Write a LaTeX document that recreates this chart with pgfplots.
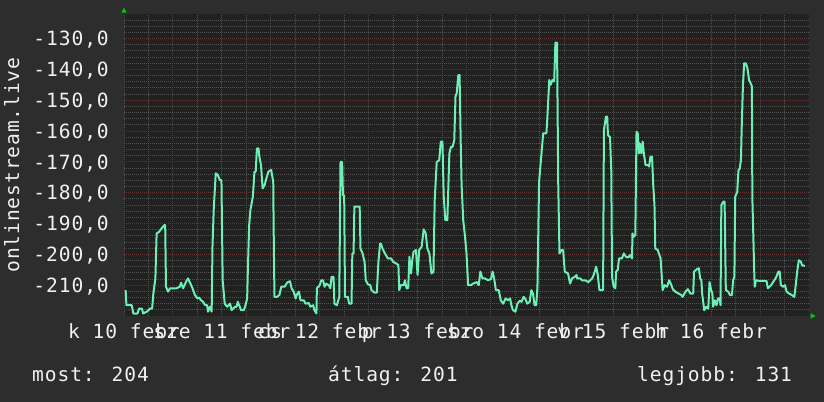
\documentclass[border=0pt]{standalone}
\usepackage{fontspec}
\usepackage{pgfplots}
\pgfplotsset{compat=1.18}

\newfontfamily\lab[LetterSpace=4.6]{DejaVu Sans Mono}
\newcommand\labfont{\lab\fontsize{19.6bp}{22bp}\selectfont}

\definecolor{outerbg}{HTML}{2D2D2D}
\definecolor{plotbg}{HTML}{212121}
\definecolor{gridmin}{HTML}{505050}
\definecolor{gridmaj}{HTML}{623434}
\definecolor{series}{HTML}{6CF0B6}
\definecolor{txt}{HTML}{F0F0F0}
\definecolor{arrowg}{HTML}{00C800}

\begin{document}
\begin{tikzpicture}
\fill[outerbg] (0,0) rectangle (824bp,402bp);
\useasboundingbox (0,0) rectangle (824bp,402bp);
\begin{axis}[
    at={(124bp,86bp)}, anchor=south west,
    scale only axis,
    width=685bp, height=302bp,
    xmin=12, xmax=180,
    ymin=-220, ymax=-122,
    axis background/.style={fill=plotbg},
    axis line style={draw=none},
    major tick length=0pt, minor tick length=0pt,
    xtick={24,48,72,96,120,144,168},
    xticklabels={,,,,,,},
    minor xtick={12,18,30,36,42,54,60,66,78,84,90,102,108,114,126,132,138,150,156,162,174},
    ytick={-210,-200,-190,-180,-170,-160,-150,-140,-130},
    yticklabels={{-210,0},{-200,0},{-190,0},{-180,0},{-170,0},{-160,0},{-150,0},{-140,0},{-130,0}},
    minor ytick={-218,-216,-214,-212,-208,-206,-204,-202,-198,-196,-194,-192,-188,-186,-184,-182,-178,-176,-174,-172,-168,-166,-164,-162,-158,-156,-154,-152,-148,-146,-144,-142,-138,-136,-134,-132,-128,-126,-124},
    grid=both,
    major grid style={gridmaj, dash pattern=on 1bp off 1bp, line width=1bp},
    minor grid style={gridmin, dash pattern=on 1bp off 1bp, line width=1bp},
    extra x ticks={12,36,60,84,108,132,156},
    extra x tick labels={k 10 febr,sze 11 febr,cs 12 febr,p 13 febr,szo 14 febr,v 15 febr,h 16 febr},
    extra x tick style={grid=none, major tick length=0pt},
    xticklabel style={font=\labfont, text=txt, anchor=base, yshift=-22.3bp, inner sep=0pt},
    yticklabel style={font=\labfont, text=txt, anchor=base east, xshift=-15bp, yshift=-7.2bp, inner sep=0pt},
]
\addplot[series, line width=2bp, line join=round] coordinates {
(12.4,-211.6) (12.6,-216.5) (13.9,-216.5) (14.3,-219.2) (15.3,-219.2) (15.7,-217.6)
(16.4,-217.6) (16.7,-219.2) (17.6,-218.6) (18.4,-217.6) (18.9,-217.6) (19.2,-212.7)
(19.7,-207.8) (20.0,-193.2) (20.6,-192.7) (21.2,-191.6) (21.9,-190.5) (22.1,-190.5)
(22.3,-210.5) (22.8,-212.1) (23.3,-211) (24.1,-211) (24.9,-211) (25.7,-210.5)
(26.0,-209.2) (26.5,-211) (27.4,-208.4) (27.7,-207.8) (28.3,-209.5) (28.8,-211)
(29.4,-213.2) (30.0,-214.3) (30.4,-214) (30.9,-214.9) (31.4,-215.4) (31.9,-216.5)
(32.4,-216.5) (32.6,-218.6) (33.1,-217) (33.5,-218.6) (33.7,-197.5) (34.0,-185.6)
(34.5,-173.7) (35.0,-174.2) (35.5,-175.9) (35.9,-175.9) (36.2,-208.4) (36.7,-216)
(37.3,-217) (38.0,-216) (38.4,-218.1) (39.2,-217) (39.6,-217) (39.9,-215.4)
(40.4,-217) (40.7,-218.1) (41.4,-218.1) (41.9,-216) (42.2,-214.3) (42.4,-204)
(42.7,-190.5) (43.0,-185.6) (43.6,-181.3) (44.0,-173.2) (44.3,-173.2) (44.6,-165.6)
(45.0,-165.6) (45.2,-168.3) (45.6,-171) (46.0,-178.6) (46.5,-177.5) (46.8,-175.9)
(47.4,-173.2) (48.1,-172.6) (48.6,-176.4) (48.7,-191) (48.9,-213.8) (49.5,-213.8)
(50.1,-213.2) (50.6,-210.5) (51.4,-210.5) (52.0,-209.2) (52.7,-208.7) (53.1,-211)
(53.6,-212.1) (54.1,-214.3) (54.4,-213) (54.9,-212.1) (55.3,-214.9) (56.1,-214.9)
(56.5,-216) (57.3,-215.8) (57.7,-217) (58.4,-216.5) (58.7,-218.1) (59.2,-219.2)
(59.3,-211) (60.0,-210) (60.4,-208.4) (60.8,-208.4) (61.2,-210.5) (61.6,-209.5)
(62.2,-210) (62.6,-211) (62.9,-207.3) (63.4,-207.3) (63.6,-216) (64.2,-216.5)
(64.8,-213.8) (65.1,-170) (65.5,-170) (65.7,-180.8) (66.0,-180.8) (66.2,-213.8)
(66.9,-213.8) (67.2,-216) (67.8,-216) (68.0,-199.7) (68.3,-199.7) (68.5,-184.5)
(69.8,-184.5) (70.0,-198.1) (70.5,-199.7) (71.0,-202.4) (71.3,-208.4) (71.8,-209.7)
(72.4,-210) (72.7,-211.6) (73.4,-212.4) (74.0,-212.4) (74.4,-202.4) (74.8,-196.5)
(75.0,-196.5) (75.4,-198.1) (76.0,-199.7) (76.7,-201.3) (77.5,-201.3) (78.0,-202.4)
(78.7,-202.9) (79.3,-203.5) (79.5,-211.6) (79.9,-210) (80.6,-210) (80.9,-208.4)
(81.3,-211) (81.7,-211) (82.0,-200.8) (82.4,-206.2) (82.7,-201.9) (83.0,-199.2)
(83.6,-198.6) (84.0,-206.7) (84.4,-198.6) (85.0,-197.5) (85.5,-191.9) (86.0,-193.2)
(86.4,-198.1) (86.9,-199.7) (87.4,-206.2) (87.9,-205.7) (88.2,-182.4) (88.7,-170)
(89.3,-169.5) (89.7,-163.4) (90.1,-163.4) (90.4,-180.8) (90.8,-188.9) (91.3,-188.9)
(91.8,-167.2) (92.2,-165.1) (92.6,-165.1) (93.0,-162.9) (93.3,-148.8) (93.6,-147.7)
(94.0,-141.8) (94.3,-141.8) (94.6,-165.1) (94.8,-177.5) (95.2,-188.9) (95.6,-193.8)
(96.0,-199.7) (96.4,-210) (97.1,-210) (97.6,-209.5) (98.5,-209) (99.0,-210)
(99.4,-205.6) (99.9,-207.8) (100.5,-207.8) (101.3,-208.4) (102.0,-208) (102.4,-205.6)
(102.8,-208) (103.2,-211.6) (103.9,-211.6) (104.4,-214.9) (105.0,-216) (105.6,-214.3)
(106.2,-214.9) (106.7,-214.3) (107.0,-216.5) (107.4,-218.1) (108.0,-218.6) (108.5,-216)
(109.1,-215) (109.5,-215.4) (110.0,-213.8) (110.5,-214.6) (110.9,-216) (111.5,-215.4)
(111.9,-211.6) (112.3,-212.7) (112.7,-216.5) (113.1,-216.5) (113.4,-210.5) (113.8,-176.4)
(114.4,-167.2) (114.8,-160.7) (115.6,-160.7) (115.8,-156.4) (116.3,-143.4) (116.6,-145)
(117.1,-143.4) (117.5,-143.9) (117.8,-131.3) (118.2,-131.3) (118.5,-177.3) (118.8,-199.7)
(119.3,-198.6) (119.7,-198.6) (120.1,-205.6) (120.9,-206.2) (121.4,-209.5) (121.9,-207.8)
(122.5,-207.3) (123.0,-206.7) (123.1,-207.8) (123.9,-207.8) (124.3,-208.4) (125.1,-208.4)
(125.9,-209) (126.8,-207.8) (127.2,-206.7) (127.8,-204) (128.2,-206.7) (128.6,-211.6)
(129.5,-211.6) (129.7,-159.7) (130.2,-155.3) (130.5,-155.3) (130.7,-161.4) (131.2,-161.9)
(131.5,-172.7) (131.7,-207.3) (132.1,-210.5) (132.5,-211) (132.7,-205.6) (133.1,-205)
(133.4,-201.3) (134.1,-201.3) (134.6,-199.7) (135.1,-200.8) (135.7,-201) (136.1,-200.2)
(136.6,-201.3) (136.7,-193.2) (137.0,-194.3) (137.4,-193.8) (137.7,-160.2) (138.0,-160.7)
(138.3,-167.2) (138.5,-164) (138.9,-167.2) (139.2,-163.4) (139.5,-167.2) (139.9,-171)
(140.5,-171) (140.8,-171.5) (141.1,-168.3) (141.5,-168.3) (141.8,-177.5) (142.1,-184)
(142.3,-198.1) (142.9,-198.6) (143.6,-201.3) (144.1,-211.6) (144.6,-210) (145.2,-210.5)
(145.7,-208.4) (146.1,-209.5) (146.6,-211.3) (147.2,-212.1) (148.0,-212.7) (148.7,-213.2)
(149.0,-213.8) (149.7,-212.1) (150.3,-211.3) (150.9,-212.7) (151.3,-212.7) (151.6,-212.7)
(151.8,-205.6) (152.6,-204.7) (153.0,-204.5) (153.3,-207.8) (153.6,-208.4) (153.8,-212.7)
(154.3,-218.1) (154.8,-217) (155.3,-217.6) (155.6,-209) (156.0,-211.6) (156.3,-212.7)
(156.5,-217) (156.9,-214.9) (157.3,-216.5) (157.7,-214.3) (158.1,-214.3) (158.3,-216.5)
(158.5,-184) (159.0,-182.9) (159.3,-182.9) (159.6,-211.6) (160.2,-212.1) (160.6,-213.2)
(161.1,-213.2) (161.4,-208.4) (161.7,-207.3) (161.9,-181.3) (162.4,-179.7) (162.7,-172.7)
(163.0,-172.2) (163.3,-169.5) (163.5,-158.6) (163.8,-145) (164.1,-138) (164.5,-138)
(164.9,-139.6) (165.3,-143.4) (165.7,-144.5) (166.0,-145.5) (166.1,-181.3) (166.6,-207.3)
(166.7,-210.5) (167.0,-208.4) (167.8,-208.6) (169.0,-208.6) (169.6,-208.7) (169.9,-211)
(170.7,-210) (171.5,-208.4) (172.0,-207.3) (172.5,-205.6) (172.8,-205.6) (173.1,-210)
(173.6,-210.5) (174.1,-210) (174.5,-212.1) (175.1,-212.7) (175.8,-213.2) (176.4,-213.8)
(176.7,-210.5) (177.1,-205.6) (177.5,-201.9) (178.0,-202.4) (178.3,-203.5) (179.0,-203.8)
};
\end{axis}
% axis arrows
\fill[arrowg] (121.3bp,389.3bp) -- (126.7bp,389.3bp) -- (124bp,394.3bp) -- cycle;
\fill[arrowg] (810.7bp,83.3bp) -- (810.7bp,88.7bp) -- (815.7bp,86bp) -- cycle;
% y label and summary line
\node[rotate=90, anchor=base, inner sep=0pt, font=\labfont, text=txt] at (19bp,237bp) {onlinestream.live};
\node[anchor=base west, inner sep=0pt, font=\labfont, text=txt] at (32bp,20.3bp) {most: 204};
\node[anchor=base west, inner sep=0pt, font=\labfont, text=txt] at (328bp,20.3bp) {átlag: 201};
\node[anchor=base west, inner sep=0pt, font=\labfont, text=txt] at (637bp,20.3bp) {legjobb: 131};
\end{tikzpicture}
\end{document}
